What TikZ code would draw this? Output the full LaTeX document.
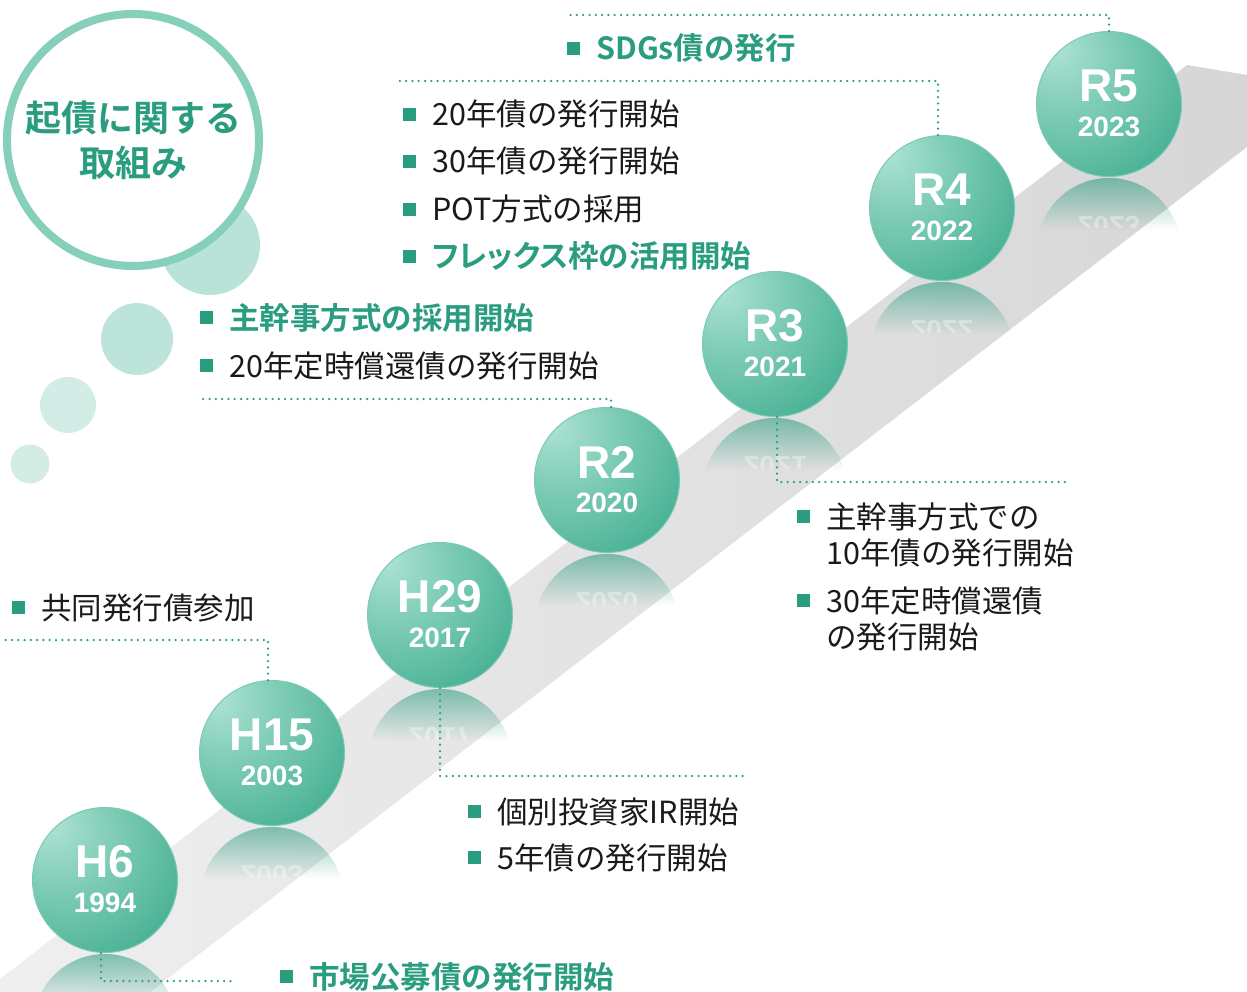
\documentclass[tikz,border=0pt]{standalone}
\usepackage{fontspec}
\setmainfont{Noto Sans CJK JP}[BoldFont={* Bold}]
\newfontfamily\lsb{Liberation Sans}
\usetikzlibrary{fadings}
\definecolor{teal1}{HTML}{2A9D80}
\definecolor{txtc}{HTML}{1A1A1A}
\definecolor{ringc}{HTML}{86CFBB}
\definecolor{bub1}{HTML}{B9E3D8}
\definecolor{bub2}{HTML}{BCE4DA}
\definecolor{bub3}{HTML}{D3ECE6}
\definecolor{cL}{HTML}{B0E3D5}
\definecolor{cLM}{HTML}{86D0BB}
\definecolor{cM}{HTML}{4CB396}
\definecolor{cD}{HTML}{279B7E}
\definecolor{rimc}{HTML}{7CCAB4}
\pgfdeclareradialshading{ballg}{\pgfpoint{-20bp}{20bp}}{color(0bp)=(cL); color(16bp)=(cLM); color(40bp)=(cM); color(66bp)=(cD); color(90bp)=(cD)}
\tikzfading[name=reflfade, top color=transparent!35, bottom color=transparent!100]
\newcommand\bul{\textcolor{teal1}{\raisebox{5pt}{\rule{13pt}{13pt}}}\hspace{16pt}}
\tikzset{
  ball/.style={circle, minimum size=145pt, inner sep=0pt, shade, shading=ballg, draw=rimc, line width=1pt},
  lblA/.style={text=white, inner sep=0pt, font=\lsb\bfseries\fontsize{46}{50}\selectfont},
  lblB/.style={text=white, inner sep=0pt, font=\lsb\bfseries\fontsize{28}{32}\selectfont},
  mir/.style={text=white, opacity=0.35, inner sep=0pt, yscale=-1, font=\lsb\bfseries\fontsize{28}{32}\selectfont},
  dotl/.style={draw=teal1, line width=2.5pt, line cap=round, dash pattern=on 0pt off 6.3pt},
  itm/.style={anchor=base west, inner sep=0pt, text=txtc, font=\fontsize{30.5}{35}\selectfont},
  itmg/.style={itm, text=teal1, font=\fontsize{30.5}{35}\selectfont\bfseries},
}
\begin{document}
\begin{tikzpicture}[x=1pt, y=-1pt]
\useasboundingbox (0,0) rectangle (1247,992);
% band
\begin{scope}
\clip (0,0) rectangle (1247,992);
\shade[left color=gray!12, right color=gray!32] (1187,65) -- (1247,75) -- (1247,147) -- (150,992) -- (-17,992) -- cycle;
\end{scope}
% thought bubbles
\fill[bub1] (210,245) circle (50);
\fill[bub2] (137,339) circle (36);
\fill[bub3] (68,405) circle (28);
\fill[bub3] (30,464) circle (19.5);
\node[circle, draw=ringc, line width=8pt, fill=white, minimum size=252pt, inner sep=0pt] (bubble) at (133,140) {};
\node[text=teal1, align=center, font=\fontsize{36}{45}\selectfont\bfseries] (title) at (133,140) {起債に関する\\取組み};
% reflections
\foreach \n/\cx/\cy in {94/105/880, 03/272/753, 17/440/615, 20/607/480, 21/775/344, 22/942/208, 23/1109/104}{
  \fill[cD, path fading=reflfade] (\cx-69.2,\cy+126) arc[start angle=196.1, end angle=343.9, radius=72] -- cycle;
}
\foreach \n/\cx/\cy/\yr in {03/272/753/2003, 17/440/615/2017, 20/607/480/2020, 21/775/344/2021, 22/942/208/2022, 23/1109/104/2023}{
  \begin{scope}
  \clip (\cx-69.2,\cy+124) arc[start angle=196.1, end angle=343.9, radius=72] -- cycle;
  \node[mir] (m\n) at (\cx,\cy+122) {\yr};
  \end{scope}
}
% circles
\foreach \n/\cx/\cy/\a/\yr in {94/105/880/H6/1994, 03/272/753/H15/2003, 17/440/615/H29/2017, 20/607/480/R2/2020, 21/775/344/R3/2021, 22/942/208/R4/2022, 23/1109/104/R5/2023}{
  \node[ball] (c\n) at (\cx,\cy) {};
  \node[lblA] (a\n) at (\cx,\cy-18) {\a};
  \node[lblB] (y\n) at (\cx,\cy+23) {\yr};
}
% connector ends
\coordinate (k23) at (568,15);
\coordinate (k22) at (395,81);
\coordinate (k20) at (198,399);
\coordinate (k21) at (1066,482);
\coordinate (k03) at (0,640);
\coordinate (k17) at (747,776);
\coordinate (k94) at (231,981);
\draw[dotl] (c23.north) |- (k23);
\draw[dotl] ([xshift=-4pt]c22.north) |- (k22);
\draw[dotl] ([xshift=4pt]c20.north) |- (k20);
\draw[dotl] ([xshift=2pt]c21.south) |- (k21);
\draw[dotl] ([xshift=-4pt]c03.north) |- (k03);
\draw[dotl] (c17.south) |- (k17);
\draw[dotl] ([xshift=-4pt]c94.south) |- (k94);
% texts
\node[itmg] (t23) at (567,60) {\bul SDGs債の発行};
\node[itm] (t22a) at (403,126) {\bul 20年債の発行開始};
\node[itm] (t22b) at (403,173) {\bul 30年債の発行開始};
\node[itm] (t22c) at (403,221) {\bul POT方式の採用};
\node[itmg] (t22d) at (403,268) {\bul {\addfontfeatures{RawFeature=+palt}フレックス}枠の活用開始};
\node[itmg] (t20a) at (200,329) {\bul 主幹事方式の採用開始};
\node[itm] (t20b) at (200,377) {\bul 20年定時償還債の発行開始};
\node[itm] (t21a) at (797,528) {\bul 主幹事方式での};
\node[itm] (t21b) at (826,564) {10年債の発行開始};
\node[itm] (t21c) at (797,612) {\bul 30年定時償還債};
\node[itm] (t21d) at (826,648) {の発行開始};
\node[itm] (t03) at (12,619) {\bul 共同発行債参加};
\node[itm] (t17a) at (468,823) {\bul 個別投資家IR開始};
\node[itm] (t17b) at (468,869) {\bul 5年債の発行開始};
\node[itmg] (t94) at (280,988) {\bul 市場公募債の発行開始};
\end{tikzpicture}
\end{document}
